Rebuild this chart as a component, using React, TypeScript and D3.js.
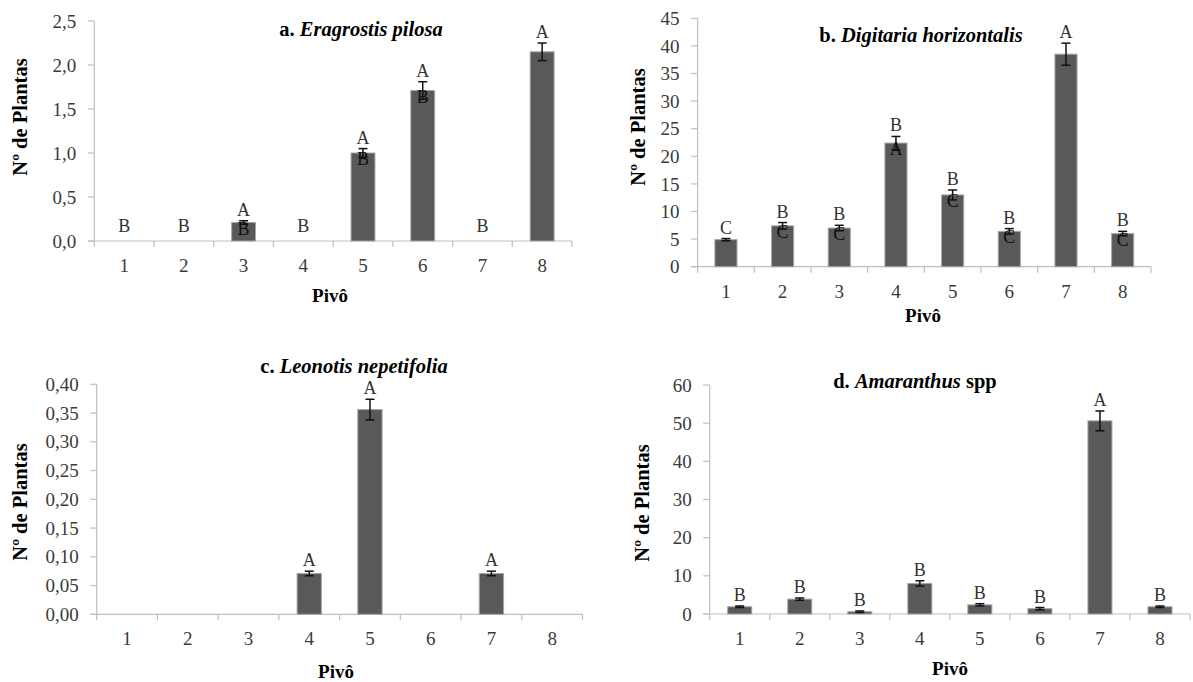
import React from "react";
import * as d3 from "d3";

// pivots (x categories)
const pivots = ["1", "2", "3", "4", "5", "6", "7", "8"];

// a. Eragrostis pilosa
const eragrostisMean = [0, 0, 0.21, 0, 1.0, 1.71, 0, 2.15];
const eragrostisErr = [0, 0, 0.02, 0, 0.05, 0.1, 0, 0.1];
const eragrostisTop = ["B", "B", "A", "B", "A", "A", "B", "A"];
const eragrostisLow = ["", "", "B", "", "B", "B", "", ""];
const eragrostisTicks = [0, 0.5, 1.0, 1.5, 2.0, 2.5];

// b. Digitaria horizontalis
const digitariaMean = [4.9, 7.4, 7.0, 22.4, 13.0, 6.4, 38.5, 6.0];
const digitariaErr = [0.2, 0.6, 0.5, 1.2, 0.9, 0.5, 2.0, 0.4];
const digitariaTop = ["C", "B", "B", "B", "B", "B", "A", "B"];
const digitariaLow = ["", "C", "C", "A", "C", "C", "", "C"];
const digitariaTicks = [0, 5, 10, 15, 20, 25, 30, 35, 40, 45];

// c. Leonotis nepetifolia
const leonotisMean = [0, 0, 0, 0.071, 0.356, 0, 0.071, 0];
const leonotisErr = [0, 0, 0, 0.004, 0.018, 0, 0.004, 0];
const leonotisTop = ["", "", "", "A", "A", "", "A", ""];
const leonotisLow = ["", "", "", "", "", "", "", ""];
const leonotisTicks = [0, 0.05, 0.1, 0.15, 0.2, 0.25, 0.3, 0.35, 0.4];

// d. Amaranthus spp
const amaranthusMean = [1.9, 3.9, 0.6, 8.0, 2.4, 1.4, 50.6, 1.9];
const amaranthusErr = [0.2, 0.3, 0.2, 0.7, 0.3, 0.3, 2.6, 0.2];
const amaranthusTop = ["B", "B", "B", "B", "B", "B", "A", "B"];
const amaranthusLow = ["", "", "", "", "", "", "", ""];
const amaranthusTicks = [0, 10, 20, 30, 40, 50, 60];

const serif = "'Liberation Serif', 'Times New Roman', serif";

type PanelProps = {
  means: number[];
  errs: number[];
  top: string[];
  low: string[];
  ticks: number[];
  decimals: number;
  x0: number;
  x1: number;
  yTop: number;
  y0: number;
  pad: number;
  title: React.ReactNode;
  titleX: number;
  titleY: number;
  yLabelX: number;
  yLabelY: number;
  xLabelX: number;
  xLabelY: number;
};

const Panel = (p: PanelProps) => {
  const x = d3
    .scaleBand()
    .domain(pivots)
    .range([p.x0, p.x1])
    .paddingInner(p.pad)
    .paddingOuter(p.pad / 2);
  const y = d3
    .scaleLinear()
    .domain([0, p.ticks[p.ticks.length - 1]])
    .range([p.y0, p.yTop]);
  const step = x.step();
  const fmt = (v: number) => v.toFixed(p.decimals).replace(".", ",");

  return (
    <g>
      {/* y axis */}
      <line x1={p.x0} x2={p.x0} y1={p.y0} y2={p.yTop} stroke="#bfbfbf" strokeWidth={1.2} />
      {p.ticks.map((t) => (
        <g key={t}>
          <line x1={p.x0 - 6.5} x2={p.x0} y1={y(t)} y2={y(t)} stroke="#bfbfbf" strokeWidth={1.2} />
          <text
            x={p.x0 - 18}
            y={y(t)}
            dy="0.35em"
            textAnchor="end"
            fontFamily={serif}
            fontSize={19}
            fill="#3a3a3a"
          >
            {fmt(t)}
          </text>
        </g>
      ))}
      {/* x axis */}
      <line x1={p.x0 - 6.5} x2={p.x1} y1={p.y0} y2={p.y0} stroke="#bfbfbf" strokeWidth={1.2} />
      {d3.range(pivots.length + 1).map((i) => (
        <line
          key={i}
          x1={p.x0 + i * step}
          x2={p.x0 + i * step}
          y1={p.y0}
          y2={p.y0 + 6}
          stroke="#bfbfbf"
          strokeWidth={1.2}
        />
      ))}
      {pivots.map((c) => (
        <text
          key={c}
          x={(x(c) as number) + x.bandwidth() / 2}
          y={p.y0 + 31}
          textAnchor="middle"
          fontFamily={serif}
          fontSize={19}
          fill="#3a3a3a"
        >
          {c}
        </text>
      ))}
      {/* bars */}
      {pivots.map((c, i) => {
        const v = p.means[i];
        const bx = x(c) as number;
        const cx = bx + x.bandwidth() / 2;
        const e = p.errs[i];
        const errTop = y(v + e);
        const errBot = y(Math.max(0, v - e));
        return (
          <g key={c}>
            {v > 0 && (
              <rect
                x={bx}
                y={y(v)}
                width={x.bandwidth()}
                height={p.y0 - y(v)}
                fill="#595959"
                stroke="#a6a6a6"
                strokeWidth={1}
              />
            )}
            {e > 0 && (
              <g stroke="#111" strokeWidth={1.5}>
                <line x1={cx} x2={cx} y1={errTop} y2={errBot} />
                <line x1={cx - 4.5} x2={cx + 4.5} y1={errTop} y2={errTop} />
                <line x1={cx - 4.5} x2={cx + 4.5} y1={errBot} y2={errBot} />
              </g>
            )}
            {p.top[i] && (
              <text
                x={cx}
                y={v > 0 ? errTop - 5 : p.y0 - 9}
                textAnchor="middle"
                fontFamily={serif}
                fontSize={18}
                fill="#333"
              >
                {p.top[i]}
              </text>
            )}
            {p.low[i] && (
              <text
                x={cx}
                y={y(v) + 12}
                textAnchor="middle"
                fontFamily={serif}
                fontSize={18}
                fill="#111"
              >
                {p.low[i]}
              </text>
            )}
          </g>
        );
      })}
      {/* title */}
      <text
        x={p.titleX}
        y={p.titleY}
        textAnchor="middle"
        fontFamily={serif}
        fontSize={20.5}
        fontWeight="bold"
        fill="#000"
      >
        {p.title}
      </text>
      {/* axis titles */}
      <text
        transform={`translate(${p.yLabelX},${p.yLabelY}) rotate(-90)`}
        dy="0.35em"
        textAnchor="middle"
        fontFamily={serif}
        fontSize={20.5}
        fontWeight="bold"
        fill="#000"
      >
        Nº de Plantas
      </text>
      <text
        x={p.xLabelX}
        y={p.xLabelY}
        textAnchor="middle"
        fontFamily={serif}
        fontSize={19}
        fontWeight="bold"
        fill="#000"
      >
        Pivô
      </text>
    </g>
  );
};

const App = () => {
  return (
    <svg
      width={1193}
      height={682}
      style={{ position: "absolute", left: 0, top: 0, background: "#fff" }}
    >
      <Panel
        means={eragrostisMean}
        errs={eragrostisErr}
        top={eragrostisTop}
        low={eragrostisLow}
        ticks={eragrostisTicks}
        decimals={1}
        x0={94.3}
        x1={572}
        yTop={21}
        y0={241}
        pad={0.6}
        title={
          <>
            a. <tspan fontStyle="italic">Eragrostis pilosa</tspan>
          </>
        }
        titleX={361}
        titleY={36}
        yLabelX={20}
        yLabelY={117}
        xLabelX={330}
        xLabelY={302}
      />
      <Panel
        means={digitariaMean}
        errs={digitariaErr}
        top={digitariaTop}
        low={digitariaLow}
        ticks={digitariaTicks}
        decimals={0}
        x0={697.6}
        x1={1151}
        yTop={18.3}
        y0={266.7}
        pad={0.61}
        title={
          <>
            b. <tspan fontStyle="italic">Digitaria horizontalis</tspan>
          </>
        }
        titleX={921}
        titleY={42}
        yLabelX={638}
        yLabelY={127}
        xLabelX={923}
        xLabelY={322}
      />
      <Panel
        means={leonotisMean}
        errs={leonotisErr}
        top={leonotisTop}
        low={leonotisLow}
        ticks={leonotisTicks}
        decimals={2}
        x0={96.7}
        x1={582.5}
        yTop={384.3}
        y0={614.3}
        pad={0.6}
        title={
          <>
            c. <tspan fontStyle="italic">Leonotis nepetifolia</tspan>
          </>
        }
        titleX={354}
        titleY={373}
        yLabelX={20}
        yLabelY={502}
        xLabelX={336}
        xLabelY={678}
      />
      <Panel
        means={amaranthusMean}
        errs={amaranthusErr}
        top={amaranthusTop}
        low={amaranthusLow}
        ticks={amaranthusTicks}
        decimals={0}
        x0={709.7}
        x1={1190}
        yTop={385}
        y0={614}
        pad={0.6}
        title={
          <>
            d. <tspan fontStyle="italic">Amaranthus</tspan> spp
          </>
        }
        titleX={915}
        titleY={388}
        yLabelX={641.6}
        yLabelY={503}
        xLabelX={950}
        xLabelY={675}
      />
    </svg>
  );
};

export default App;
